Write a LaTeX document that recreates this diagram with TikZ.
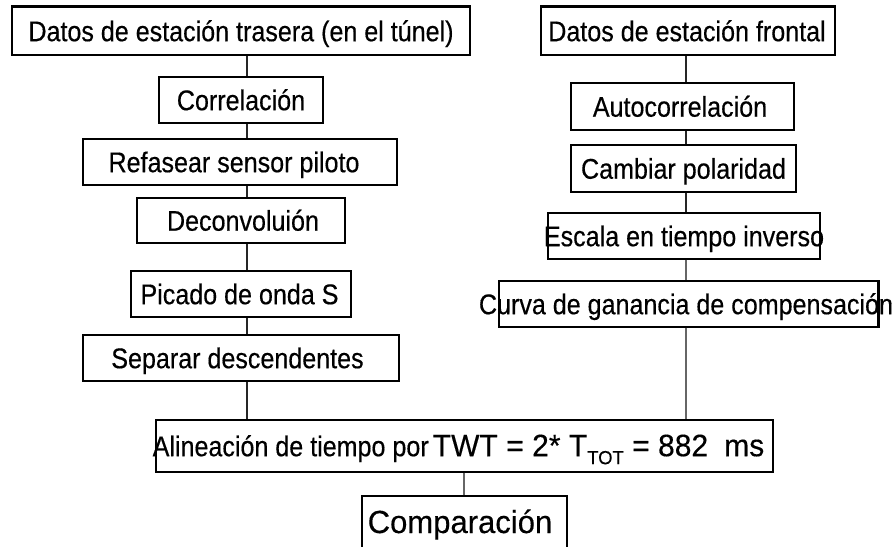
\documentclass[tikz,border=0pt]{standalone}
\usepackage{fontspec}
\setmainfont{Liberation Sans}[FakeStretch=0.88,FakeBold=0.4]
\newfontfamily\widefont{Liberation Sans}[FakeStretch=0.97,FakeBold=0.3]
\newcommand{\bt}[2][0pt]{\makebox[0pt]{\hspace*{#1}#2}}
\begin{document}
\begin{tikzpicture}[x=1pt,y=-1pt,
  box/.style={draw=black, line width=1.3pt, inner sep=0pt, fill=white,
    text height=20.4pt, text depth=0pt,
    font=\fontsize{28.5}{32}\selectfont},
  conn/.style={line width=1.3pt, draw=black!85},
  lconn/.style={line width=1.3pt, draw=black!60},
  thickedge/.style={line width=3pt, draw=black}]
\useasboundingbox[fill=white] (0,0) rectangle (893,546);

% left column
\node[box, minimum width=458pt, minimum height=48pt] (A) at (241,31) {\bt{Datos de estación trasera (en el túnel)}};
\node[box, minimum width=164pt, minimum height=46pt] (corr) at (241,100) {\bt{Correlación}};
\node[box, minimum width=314pt, minimum height=46pt] (ref) at (240,162) {\bt[-12pt]{Refasear sensor piloto}};
\node[box, minimum width=208pt, minimum height=45pt] (dec) at (241,220.5) {\bt[4pt]{Deconvoluión}};
\node[box, minimum width=220pt, minimum height=46pt] (pic) at (241,294) {\bt[-3pt]{Picado de onda S}};
\node[box, minimum width=316pt, minimum height=46pt] (sep) at (241,358) {\bt[-7pt]{Separar descendentes}};

% right column
\node[box, minimum width=294pt, minimum height=48pt] (F) at (688,31) {\bt[-2pt]{Datos de estación frontal}};
\node[box, minimum width=223pt, minimum height=47pt] (auto) at (682.5,106.5) {\bt[-5pt]{Autocorrelación}};
\node[box, minimum width=225pt, minimum height=47pt] (camb) at (683.5,168.5) {\bt{Cambiar polaridad}};
\node[box, minimum width=272pt, minimum height=46pt] (esc) at (684,236) {\bt{Escala en tiempo inverso}};
\node[box, minimum width=379pt, minimum height=46pt] (curva) at (688.5,304) {\bt[-5pt]{Curva de ganancia de compensación}};

% bottom
\node[box, minimum width=617pt, minimum height=52pt] (alin) at (464.5,446)
  {\bt[-12pt]{Alineación de tiempo por\hspace{4pt}{\widefont\fontsize{31}{36}\selectfont TWT = 2* T\raisebox{-8pt}{\fontsize{19}{20}\selectfont TOT} = 882\hspace{16pt}ms}}};
\node[box, minimum width=205pt, minimum height=54pt, text height=20pt, font=\widefont\fontsize{32}{36}\selectfont] (comp) at (464.5,523) {\bt[-9pt]{Comparación}};

% thick edges
\draw[thickedge] (A.north west) -- (A.north east);
\draw[thickedge] (F.north west) -- (F.north east);
\draw[thickedge] (curva.north east) -- (curva.south east);

% connector columns
\coordinate (lx) at (247,0);
\coordinate (rx) at (686,0);
\coordinate (mx) at (464,0);

\draw[conn] (lx |- A.south) -- (lx |- corr.north);
\draw[conn] (lx |- corr.south) -- (lx |- ref.north);
\draw[conn] (lx |- ref.south) -- (lx |- dec.north);
\draw[conn] (lx |- dec.south) -- (lx |- pic.north);
\draw[conn] (lx |- pic.south) -- (lx |- sep.north);
\draw[conn] (lx |- sep.south) -- (lx |- alin.north);

\draw[conn] (rx |- F.south) -- (rx |- auto.north);
\draw[conn] (rx |- auto.south) -- (rx |- camb.north);
\draw[conn] (rx |- camb.south) -- (rx |- esc.north);
\draw[lconn] (rx |- esc.south) -- (rx |- curva.north);
\draw[lconn] (rx |- curva.south) -- (rx |- alin.north);

\draw[lconn] (mx |- alin.south) -- (mx |- comp.north);
\end{tikzpicture}
\end{document}
